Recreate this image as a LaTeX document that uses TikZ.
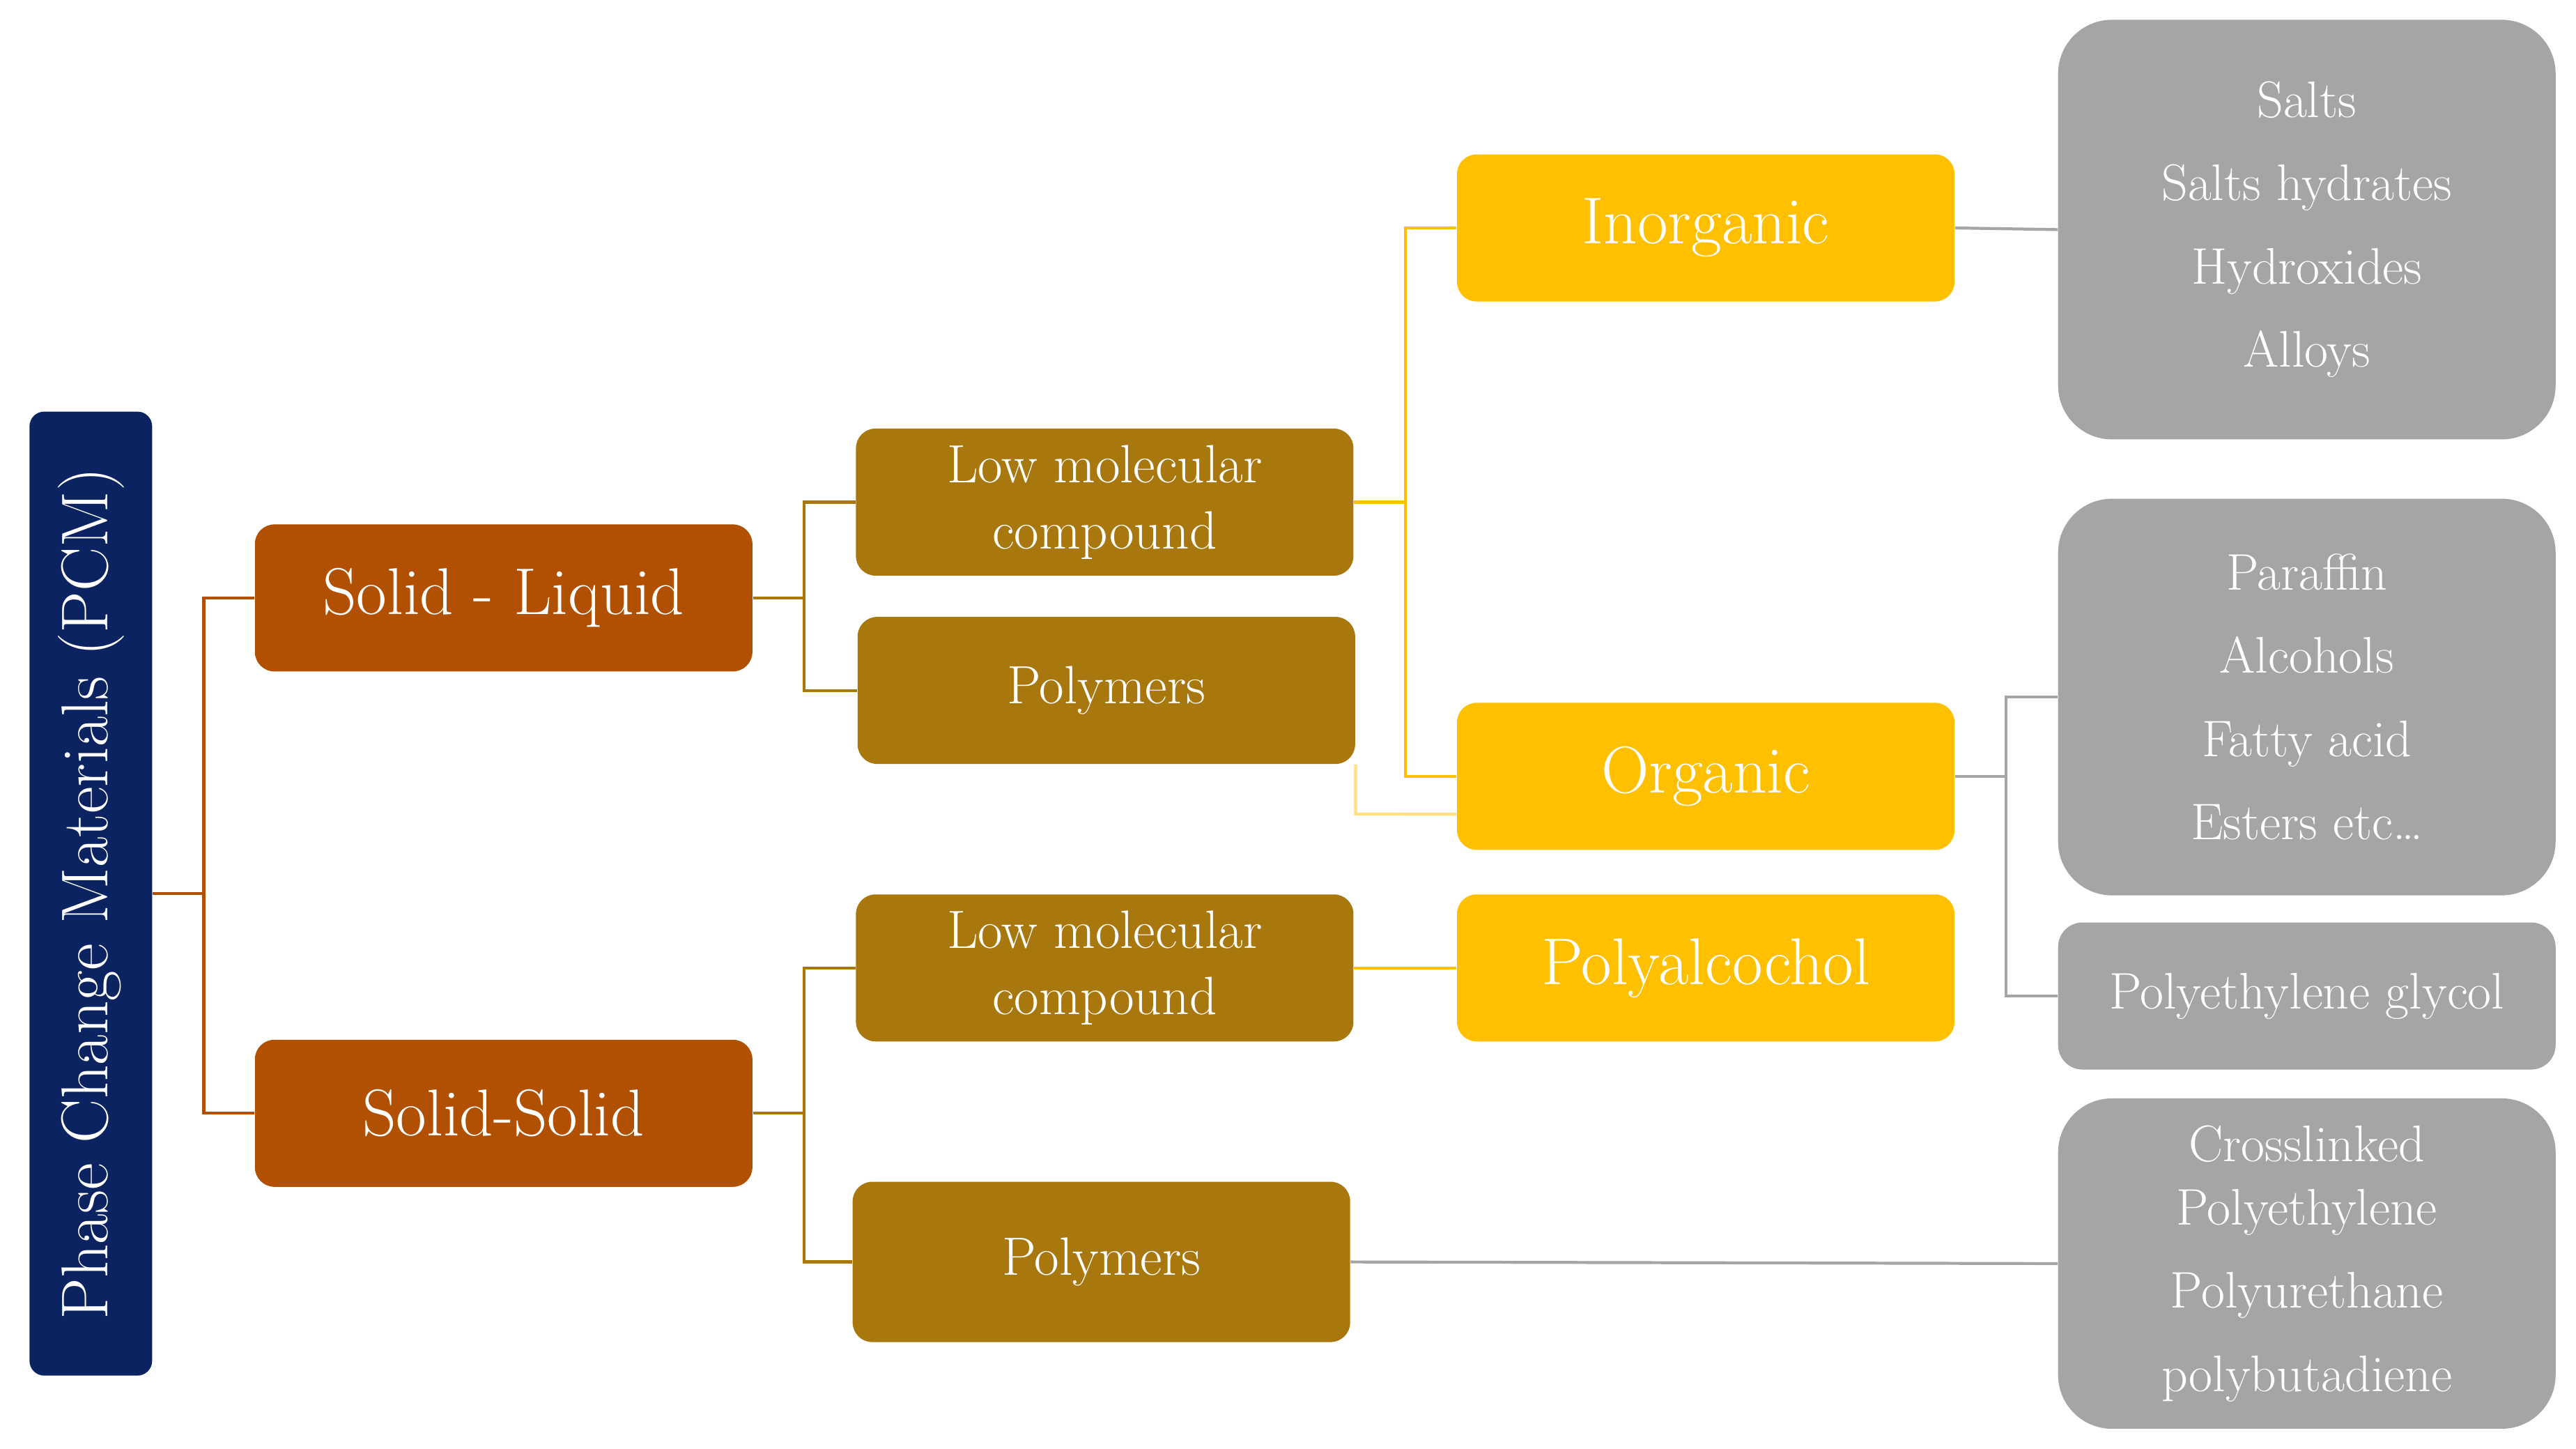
\documentclass[tikz,border=0pt]{standalone}
\usepackage{tikz}
\usetikzlibrary{positioning, calc}
\definecolor{navy}{HTML}{0B2461}
\definecolor{rust}{HTML}{B05000}
\definecolor{olive}{HTML}{A8780F}
\definecolor{gold}{HTML}{FFC000}
\definecolor{stone}{HTML}{A5A5A5}
\tikzstyle{box} = [rectangle, rounded corners=8pt, minimum width=7.14cm, minimum height=2.11cm, text centered, align=center, text=white, inner sep=2pt]
\tikzstyle{main} = [box, fill=rust, font=\fontsize{27}{30}\selectfont]
\tikzstyle{sub} = [box, fill=olive, font=\fontsize{22}{27}\selectfont]
\tikzstyle{kind} = [box, fill=gold, font=\fontsize{27}{30}\selectfont]
\tikzstyle{list} = [box, fill=stone, rounded corners=22pt, font=\fontsize{21}{26}\selectfont]
\tikzstyle{link} = [line width=1.2pt]
\begin{document}
\begin{tikzpicture}[x=0.02370cm, y=-0.02370cm]
        \useasboundingbox (0,0) rectangle (1560,877);

        % Root
        \node (pcm) [rectangle, rounded corners=6pt, fill=navy, text=white, rotate=90, minimum width=13.83cm, minimum height=1.76cm, font=\fontsize{27}{30}\selectfont] at (55,541) {Phase Change Materials (PCM)};

        % First column
        \node (sl) [main] at (305,362) {Solid - Liquid};
        \node (ss) [main] at (305,674) {Solid-Solid};

        % Second column
        \node (lmc1) [sub] at (669,304) {Low molecular\\compound};
        \node (poly1) [sub] at (670,418) {Polymers};
        \node (lmc2) [sub] at (669,586) {Low molecular\\compound};
        \node (poly2) [sub, minimum height=2.3cm] at (667,764) {Polymers};

        % Third column
        \node (inorg) [kind] at (1033,138) {Inorganic};
        \node (org) [kind] at (1033,470) {Organic};
        \node (palc) [kind] at (1033,586) {Polyalcochol};

        % Lists
        \node (l1) [list, minimum height=6.02cm] at (1397,139) {Salts\\[8pt]Salts hydrates\\[8pt]Hydroxides\\[8pt]Alloys};
        \node (l2) [list, minimum height=5.69cm] at (1397,422) {Paraffin\\[8pt]Alcohols\\[8pt]Fatty acid\\[8pt]Esters etc\ldots};
        \node (l3) [list, rounded corners=10pt, minimum height=2.11cm] at (1397,603) {Polyethylene glycol};
        \node (l4) [list, minimum height=4.74cm] at (1397,765) {Crosslinked\\Polyethylene\\[8pt]Polyurethane\\[8pt]polybutadiene};

        % Connections
        \draw [link, rust] (pcm.south) -- ++(31,0) |- (sl.west);
        \draw [link, rust] (pcm.south) -- ++(31,0) |- (ss.west);
        \draw [link, olive] (sl.east) -- ++(31,0) |- (lmc1.west);
        \draw [link, olive] (sl.east) -- ++(31,0) |- (poly1.west);
        \draw [link, olive] (ss.east) -- ++(31,0) |- (lmc2.west);
        \draw [link, olive] (ss.east) -- ++(31,0) |- (poly2.west);
        \draw [link, gold] (lmc1.east) -- ++(31,0) |- (inorg.west);
        \draw [link, gold] (lmc1.east) -- ++(31,0) |- (org.west);
        \draw [link, gold!50] (poly1.south east) -- ++(0,30) -- ($(org.west)+(0,23)$);
        \draw [link, gold] (lmc2.east) -- (palc.west);
        \draw [link, stone] (inorg.east) -- (l1.west);
        \draw [link, stone] (org.east) -- ++(31,0) |- (l2.west);
        \draw [link, stone] (org.east) -- ++(31,0) |- (l3.west);
        \draw [link, stone] (poly2.east) -- (l4.west);

    \end{tikzpicture}
\end{document}
